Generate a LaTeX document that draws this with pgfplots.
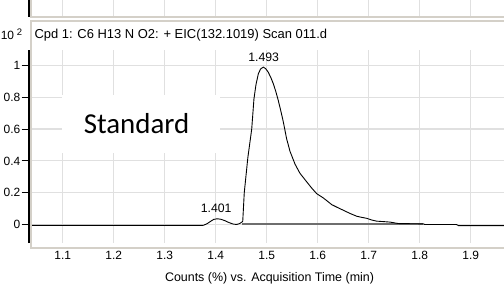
\documentclass[border=0pt]{standalone}
\usepackage{pgfplots}
\pgfplotsset{compat=1.18}
\usepackage{fontspec}
\setmainfont{Liberation Sans}
\newfontfamily\calibri{Carlito}
\definecolor{gridc}{RGB}{224,224,224}
\definecolor{framec}{RGB}{212,208,200}
\definecolor{greytrace}{RGB}{110,110,110}
\begin{document}
\begin{tikzpicture}
\clip (0bp,0bp) rectangle (504bp,285bp);
% top (cut-off) panel
\begin{axis}[at={(29.2bp,268bp)}, anchor=south west, scale only axis,
  width=474.8bp, height=17bp,
  xmin=1.0343, xmax=1.96529, ymin=0, ymax=1,
  xtick={1.1,1.2,1.3,1.4,1.5,1.6,1.7,1.8,1.9}, xticklabels={}, ytick=\empty,
  xmajorgrids, grid style={gridc, line width=1.2bp},
  axis lines*=left, x axis line style={draw=none},
  y axis line style={black, line width=1.7bp}, xtick style={draw=none}]
\addplot[draw=none] coordinates {(1.5,0.5)};
\end{axis}
% main panel
\begin{axis}[at={(29.2bp,42bp)}, anchor=south west, scale only axis,
  width=474.8bp, height=193bp,
  xmin=1.0343, xmax=1.96529, ymin=-0.1164, ymax=1.0975,
  xtick={1.1,1.2,1.3,1.4,1.5,1.6,1.7,1.8,1.9},
  ytick={0,0.2,0.4,0.6,0.8,1},
  /pgf/number format/assume math mode=true,
  xmajorgrids, ymajorgrids, grid style={gridc, line width=1.2bp},
  axis lines*=left, x axis line style={draw=none},
  y axis line style={black, line width=1.7bp},
  tick align=outside, major tick length=7.6bp,
  ytick style={black, line width=0.8bp}, xtick style={draw=none},
  yticklabel style={font=\fontsize{12}{12}\selectfont, inner sep=0pt, xshift=-1.1bp},
  xticklabel style={font=\fontsize{12}{12}\selectfont, inner sep=0pt, anchor=base, yshift=-9.3bp},
  clip=true]
\addplot[greytrace, line width=1.4bp] coordinates {(1.452,0.002) (1.807,0.002)};
\addplot[black, line width=0.9bp] coordinates {
(1.0343,-0.006) (1.370,-0.006) (1.376,-0.005) (1.383,0.005) (1.390,0.020)
(1.396,0.032) (1.403,0.036) (1.410,0.033) (1.418,0.024) (1.426,0.012)
(1.434,0.003) (1.441,0.000) (1.447,0.006) (1.450,0.012) (1.453,0.020)
(1.456,0.200) (1.463,0.420) (1.4706,0.600) (1.4750,0.790) (1.4790,0.880)
(1.4836,0.948) (1.4880,0.978) (1.4934,0.990) (1.4980,0.980) (1.5030,0.958)
(1.5080,0.925) (1.5130,0.885) (1.5180,0.835) (1.5227,0.780) (1.5280,0.710)
(1.5326,0.645) (1.5390,0.540) (1.5457,0.460) (1.5555,0.380) (1.5650,0.323)
(1.5780,0.270) (1.5880,0.230) (1.5980,0.194) (1.6110,0.167) (1.6275,0.125)
(1.6400,0.105) (1.6500,0.090) (1.6630,0.070) (1.6765,0.052) (1.6860,0.045)
(1.6960,0.039) (1.7060,0.028) (1.7157,0.021) (1.7300,0.018) (1.7420,0.015)
(1.7580,0.006) (1.7800,0.005) (1.8070,0.004) (1.8100,0.000) (1.8720,0.000)
(1.8760,-0.007) (1.96529,-0.007)};
\node[font=\fontsize{12.3}{12}\selectfont, anchor=base, inner sep=0pt] at (axis cs:1.4941,1.025) {1.493};
\node[font=\fontsize{12.3}{12}\selectfont, anchor=base, inner sep=0pt] at (axis cs:1.401,0.073) {1.401};
\end{axis}
% panel frames
\draw[framec, line width=2bp] (31bp,285bp) -- (31bp,268bp) -- (504bp,268bp);
\draw[framec, line width=2bp] (504bp,264bp) -- (31bp,264bp) -- (31bp,37bp) -- (504bp,37bp);
% title
\node[anchor=base west, inner sep=0pt, font=\fontsize{13}{13}\selectfont] at (34.3bp,246.7bp) {Cpd 1: C6 H13 N O2: + EIC(132.1019) Scan 011.d};
% y multiplier (the leading x is cut off in the reference)
\node[anchor=base west, inner sep=0pt, font=\fontsize{12}{12}\selectfont] at (0.6bp,245.7bp) {10};
\node[anchor=base west, inner sep=0pt, font=\fontsize{9.5}{9.5}\selectfont] at (16.7bp,249bp) {2};
% annotation
\fill[white] (62bp,132bp) rectangle (220bp,190bp);
\node[anchor=base, inner sep=0pt, font=\calibri\fontsize{29}{29}\selectfont] at (136.5bp,151bp) {Standard};
% x label
\node[anchor=base, inner sep=0pt, font=\fontsize{12.5}{12.5}\selectfont] at (269.5bp,3.2bp) {Counts (\%) vs. Acquisition Time (min)};
\end{tikzpicture}
\end{document}
